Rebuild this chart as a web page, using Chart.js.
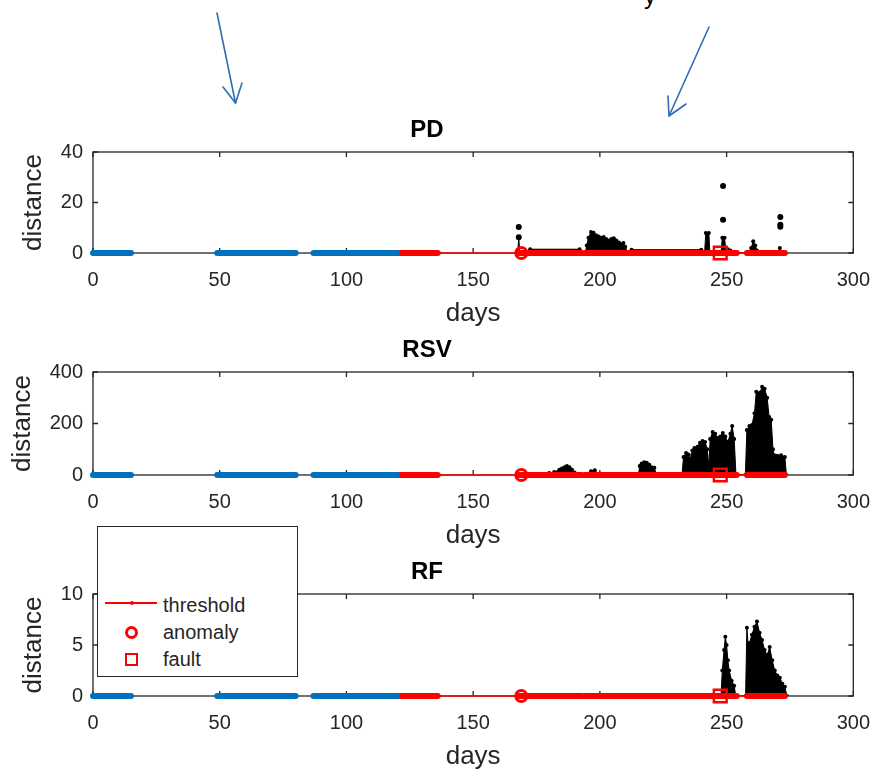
<!DOCTYPE html>
<html><head><meta charset="utf-8">
<script src="https://cdn.jsdelivr.net/npm/chart.js@4.4.1/dist/chart.umd.min.js"></script>
<style>
html,body{margin:0;padding:0;background:#fff;}
body{width:885px;height:779px;overflow:hidden;position:relative;font-family:"Liberation Sans",Arial,sans-serif;}
canvas.cv{position:absolute;left:0;}
#legendBox{position:absolute;left:97px;top:526px;width:201px;height:151px;box-sizing:border-box;border:1px solid #262626;background:#fff;z-index:10;}
.lg{position:absolute;z-index:11;}
.lt{position:absolute;z-index:11;left:163px;font-size:20px;line-height:20px;color:#262626;white-space:nowrap;}
#cut{position:absolute;left:644px;top:-16px;font-size:24px;line-height:24px;color:#000;}
</style></head><body>
<svg style="position:absolute;left:0;top:0;z-index:12" width="885" height="130">
 <g stroke="#2E6DB4" stroke-width="1.6" fill="none" stroke-linecap="round" stroke-linejoin="round">
  <line x1="217" y1="13" x2="235.5" y2="103"/>
  <polyline points="223,87 235.5,103 242,83"/>
  <line x1="709" y1="27" x2="669" y2="116"/>
  <polyline points="668,96 669,116 686,104"/>
 </g>
</svg>
<div id="cut">y</div>
<canvas id="c0" class="cv" width="885" height="214" style="top:116px;width:885px;height:214px"></canvas>
<canvas id="c1" class="cv" width="885" height="216" style="top:336px;width:885px;height:216px"></canvas>
<canvas id="c2" class="cv" width="885" height="215" style="top:558px;width:885px;height:215px"></canvas>
<div id="legendBox"></div>
<div class="lg" style="left:105px;top:602px;width:52px;height:1.5px;background:#ff0000"></div>
<div class="lg" style="left:129.5px;top:601.2px;width:4px;height:4px;border-radius:50%;background:#ff0000"></div>
<div class="lg" style="left:124.5px;top:625.5px;width:13px;height:13px;box-sizing:border-box;border:3px solid #ff0000;border-radius:50%"></div>
<div class="lg" style="left:124.5px;top:653px;width:13px;height:13px;box-sizing:border-box;border:2.5px solid #ff0000"></div>
<div class="lt" style="top:594.6px">threshold</div>
<div class="lt" style="top:621.9px">anomaly</div>
<div class="lt" style="top:649.2px">fault</div>
<script>
const FONT = '"Liberation Sans", Arial, sans-serif';
// ---- data ----
const xTickValues = [0, 50, 100, 150, 200, 250, 300];
const panelTitles = ['PD', 'RSV', 'RF'];
const yMaxes = [40, 400, 10];
const ySteps = [20, 200, 5];
const trainStarts = [0, 49, 87];
const trainEnds = [15, 80, 120];
const thresholdStart = 120;
const thresholdEnd = 273;
const belowStarts = [120, 168, 194, 258];
const belowEnds = [136, 193, 254, 273];
const anomalyDay = 169;
const faultDay = 247.5;
// PD: envelope of distances above threshold
const pdDays = [167.6,168,168.4, 172,172.5,192,192.5, 194.3,194.8,195.5,196.5,197.5,198.5,199.5,200.5,201.5,202.5,203.5,204.5,205.5,206.5,207.5,208.5,209.3,210,211, 212,212.5,240,240.5, 241.3,241.8,243,243.4, 247.8,248.3,249.2,249.6,250.5,251.5,252, 259,259.7,260.5,261.3,262,262.5, 270.6,271,271.5];
const pdDist = [0,6,0, 0,1.5,1.5,0, 0,3,6,8.3,8,7,6.5,6,6.3,5.5,5,5.5,5.8,5,4.2,3.5,4,2.5,0, 0,1.3,1.3,0, 0,7.9,7.9,0, 0,6,6,2,1.5,1,0, 0,2,4.7,3,1,0, 0,2,0];
const pdSpikeDays = [168, 168, 248.6, 248.6, 271.2, 271.2, 271.2];
const pdSpikeDist = [10.3, 6.2, 26.5, 13.2, 14.3, 11.2, 10.4];
// RSV
const rsvDays = [179.5,180,182,184,185,186,187,188,189,190,191, 195.5,196.5,198,199.5, 215.2,215.7,216.5,217.5,218.5,219.5,220.5,221.5,222.3, 232.4,233,234,235,235.5,236.5,237.3,238.5,239.5,240.5,241.5,242.4,243,243.5,244.5,245.5,246.5,247.5,248.5,249.5,250.5,251.5,252.2,253,253.7, 257.4,258,259,260,261,261.7,262.5,263.2,264,265,266,266.8,267.6,268.3,268.8,270,271.5,273,273.6];
const rsvDist = [0,8,12,20,25,30,35,30,20,10,0, 0,15,18,0, 0,35,45,50,48,40,30,28,0, 0,70,85,80,60,95,105,110,125,132,128,100,30,140,167,160,144,150,163,150,128,160,190,140,0, 0,175,190,194,240,323,315,320,343,335,300,225,215,100,77,75,77,70,0];
// RF
const rfDays = [247.8,248.3,249,249.5,250,250.5,251,252,253,253.6, 257.5,258,258.5,259,260,261,262,263,264,265,266,267,268,269,270,271,272,273,273.8];
const rfDist = [0,2.5,4.5,5.8,5,3.5,2.5,1.5,1,0, 0,6.7,5,5.2,6,6.8,7.3,6.2,5.5,4.5,4,4.8,3.5,2.5,2,1.8,1.2,0.9,0];

const envDays = [pdDays, rsvDays, rfDays];
const envDist = [pdDist, rsvDist, rfDist];
const spikeDays = [pdSpikeDays, [], []];
const spikeDist = [pdSpikeDist, [], []];
const yTitlePad = [18.4, 7.1, 18.4];

function pairs(xs, ys){ return xs.map((v,k)=>({x:v, y:ys[k]})); }
function segments(starts, ends){
  const d=[];
  starts.forEach((s,k)=>{ d.push({x:s,y:0},{x:ends[k],y:0}); if(k<starts.length-1) d.push({x:ends[k],y:null}); });
  return d;
}

const boxPlugin = {
  id:'matlabBox',
  beforeDatasetsDraw(chart){
    const {ctx, chartArea:a, scales:{x,y}} = chart;
    ctx.save();
    ctx.strokeStyle='#262626'; ctx.lineWidth=1.3;
    ctx.strokeRect(a.left, a.top, a.right-a.left, a.bottom-a.top);
    ctx.beginPath();
    x.ticks.forEach(t=>{const px=x.getPixelForValue(t.value);
      ctx.moveTo(px,a.bottom); ctx.lineTo(px,a.bottom-5);
      ctx.moveTo(px,a.top); ctx.lineTo(px,a.top+5);});
    y.ticks.forEach(t=>{const py=y.getPixelForValue(t.value);
      ctx.moveTo(a.left,py); ctx.lineTo(a.left+5,py);
      ctx.moveTo(a.right,py); ctx.lineTo(a.right-5,py);});
    ctx.stroke(); ctx.restore();
  }
};

function makeChart(i){
  const datasets = [
    {data:pairs(envDays[i], envDist[i]), borderColor:'#000', backgroundColor:'#000', borderWidth:1, fill:'origin',
     pointRadius:2, pointBackgroundColor:'#000', pointBorderWidth:0, tension:0, order:10},
    {data:pairs(spikeDays[i], spikeDist[i]), showLine:false, pointRadius:3, pointBackgroundColor:'#000', pointBorderWidth:0, order:9, clip:false},
    {data:[{x:thresholdStart,y:0},{x:thresholdEnd,y:0}], borderColor:'#ff0000', borderWidth:1.5, pointRadius:0, order:8, clip:false},
    {data:segments(belowStarts, belowEnds), borderColor:'#ff0000', borderWidth:6, borderCapStyle:'round', pointRadius:0, spanGaps:false, order:7, clip:false},
    {data:segments(trainStarts, trainEnds), borderColor:'#0072BD', borderWidth:6, borderCapStyle:'round', pointRadius:0, spanGaps:false, order:6, clip:false},
    {data:[{x:anomalyDay,y:0}], showLine:false, pointStyle:'circle', pointRadius:5.5, pointBorderWidth:3, pointBorderColor:'#ff0000', pointBackgroundColor:'rgba(0,0,0,0)', order:2, clip:false},
    {data:[{x:faultDay,y:0}], showLine:false, pointStyle:'rect', pointRadius:9, pointBorderWidth:2.5, pointBorderColor:'#ff0000', pointBackgroundColor:'rgba(0,0,0,0)', order:1, clip:false}
  ];
  new Chart(document.getElementById('c'+i), {
    type:'line',
    data:{datasets},
    options:{
      responsive:false, animation:false, events:[],
      layout:{padding:{top:0.1,right:31,left:0,bottom:0}},
      plugins:{legend:{display:false}, tooltip:{enabled:false},
        title:{display:true, text:panelTitles[i], color:'#000', font:{family:FONT,size:24,weight:'bold'}, padding:{top:0,bottom:7.1}}},
      scales:{
        x:{type:'linear', min:0, max:300,
           afterBuildTicks:s=>{ s.ticks = xTickValues.map(v=>({value:v})); },
           grid:{display:false, drawTicks:false}, border:{display:false},
           ticks:{padding:15, color:'#262626', font:{family:FONT,size:20}, maxRotation:0, autoSkip:false},
           title:{display:true, text:'days', color:'#262626', font:{family:FONT,size:26}, padding:{top:0,bottom:0.8}},
           afterFit:s=>{ s.height = 77; }},
        y:{type:'linear', min:0, max:yMaxes[i],
           ticks:{stepSize:ySteps[i], padding:10, color:'#262626', font:{family:FONT,size:20}},
           grid:{display:false, drawTicks:false}, border:{display:false},
           title:{display:true, text:'distance', color:'#262626', font:{family:FONT,size:26}, padding:{top:yTitlePad[i],bottom:0}},
           afterFit:s=>{ s.width = 93; }}
      }
    },
    plugins:[boxPlugin]
  });
}
[0,1,2].forEach(makeChart);
</script>
</body></html>
